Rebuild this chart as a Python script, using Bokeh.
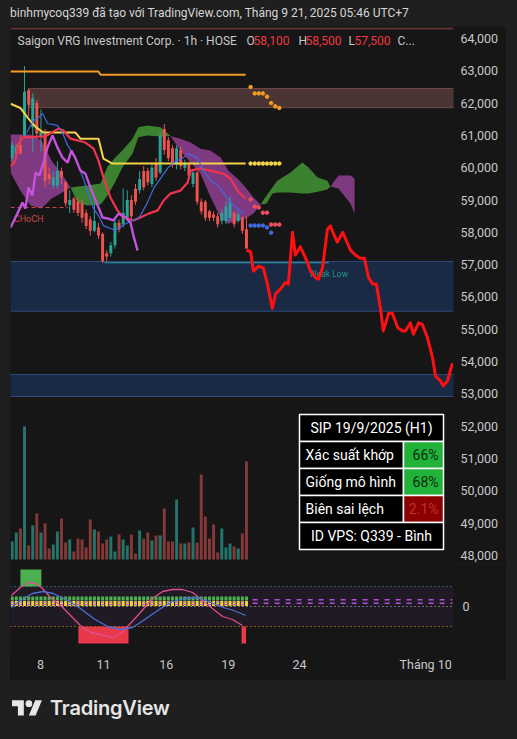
from bokeh.plotting import figure
from bokeh.models import (Range1d, FixedTicker, NumeralTickFormatter, Span, Div,
                          BoxAnnotation, ColumnDataSource, Spacer)
from bokeh.layouts import column, row
from bokeh.embed import file_html
from bokeh.resources import INLINE
from bokeh.core.properties import value

# ------------------------------------------------------------------ data
bar_idx = list(range(58))
opens = [60300, 60400, 60700, 61000, 62400, 61250, 62000, 60950, 61050, 59800,
         59450, 59450, 59900, 59550, 58850, 59050, 58950, 58900, 58600, 58400,
         58050, 58150, 57950, 57350, 57350, 57600, 58300, 58250, 58450, 59000,
         59350, 59300, 59900, 59900, 59500, 60150, 59850, 61200, 60850, 60600,
         60100, 60550, 60000, 60100, 59500, 59850, 58950, 58950, 58650, 58550,
         58500, 58350, 58350, 58450, 58600, 58350, 58450, 58100]
closes = [60700, 60650, 60450, 62350, 61950, 62150, 61050, 61150, 59600, 59650,
          59700, 59900, 59700, 58900, 59000, 58700, 58600, 58450, 58200, 58050,
          58350, 57900, 57100, 57250, 57600, 58300, 58100, 58600, 59000, 58500,
          58950, 59650, 59400, 59550, 60000, 59700, 61000, 60550, 60300, 60100,
          60600, 60050, 60130, 59750, 59850, 58950, 58650, 58450, 58450, 58450,
          58250, 58600, 58800, 58950, 58250, 58550, 58050, 57500]
highs = [60800, 60750, 61000, 63150, 62450, 62300, 62100, 61800, 61200, 60000,
         59900, 60200, 60000, 59600, 59300, 59100, 59100, 59000, 58700, 58500,
         58900, 58300, 58000, 57450, 57700, 58400, 58400, 59350, 59300, 59150,
         59500, 59900, 60050, 60000, 60100, 60300, 61100, 61350, 60950, 60700,
         60700, 60650, 60250, 60200, 59950, 59900, 59050, 59000, 58700, 58650,
         58600, 58700, 58950, 59100, 58650, 58650, 58500, 58500]
lows = [60200, 60300, 60400, 60900, 61600, 60500, 60900, 60500, 59400, 59500,
        59350, 59350, 59500, 58800, 58600, 58600, 58500, 58300, 58100, 57900,
        58000, 57800, 57050, 57100, 57250, 57500, 58000, 58150, 58350, 58400,
        58850, 59200, 59300, 59450, 59400, 59600, 59800, 60400, 60200, 60000,
        59950, 59950, 59900, 59650, 59400, 58850, 58550, 58350, 58350, 58350,
        58150, 58250, 58250, 58350, 58150, 58300, 57950, 57500]
volumes = [18, 27, 31, 133, 14, 34, 46, 27, 36, 11, 15, 28, 41, 17, 20, 8, 21, 20, 12, 40,
           30, 28, 16, 20, 23, 8, 25, 20, 14, 25, 6, 29, 21, 27, 19, 24, 24, 51, 18, 18,
           60, 16, 16, 17, 32, 17, 85, 43, 21, 35, 7, 31, 12, 16, 13, 11, 26, 98]

price_ticks = [48000, 49000, 50000, 51000, 52000, 53000, 54000, 55000, 56000,
               57000, 58000, 59000, 60000, 61000, 62000, 63000, 64000]
date_tick_pos = [6.9, 22.2, 37.5, 52.6, 69.9, 100.6]
date_tick_lbl = ["8", "11", "16", "19", "24", "Tháng 10"]

# step / indicator lines (bar index, price)
orange_x = [-0.4, 21.0, 21.5, 56.8]
orange_y = [62980, 62980, 62880, 62880]
orange_dot_x = [58, 59, 60, 61, 62, 63, 64, 65]
orange_dot_y = [62500, 62300, 62300, 62300, 62200, 62000, 61900, 61850]

yellow_x = [-0.4, 2.0, 3.5, 4.7, 5.9, 7.6, 15.4, 16.6, 21.0, 22.2, 24.4, 56.8]
yellow_y = [61980, 61850, 61600, 61400, 61240, 61090, 61090, 60900, 60900, 60280, 60130, 60130]
yellow_dot_x = [58, 59, 60, 61, 62, 63, 64, 65]
yellow_dot_y = [60130, 60130, 60130, 60130, 60130, 60130, 60130, 60130]

red_x = [-0.4, 0.8, 1.5, 2.7, 8.1, 9.6, 11.3, 12.5, 14.2, 17.8, 19.8, 21.0, 22.2, 23.9,
         25.6, 27.1, 29.5, 31.2, 33.2, 35.4, 36.8, 38.5, 40.9, 42.7, 43.4, 45.8, 48.2,
         51.2, 53.1, 54.8, 56.8]
red_y = [60040, 60220, 60750, 60940, 60970, 61090, 61210, 61150, 60900, 60780, 60590,
         60220, 59700, 59080, 58680, 58460, 58370, 58460, 58580, 58680, 58980, 59200,
         59290, 59540, 59910, 59980, 59910, 59820, 59670, 59290, 59050]
red_dot_x = [58, 59, 60, 61, 62, 63, 64, 65]
red_dot_y = [59020, 58800, 58770, 58610, 58610, 58240, 58240, 58240]

blue_x = [3.5, 5.2, 6.4, 7.4, 8.6, 11.0, 12.2, 13.5, 14.7, 16.1, 17.3, 18.6, 19.8, 21.0,
          22.2, 23.9, 25.1, 26.8, 28.1, 29.3, 30.5, 31.2, 32.9, 34.4, 36.1, 37.8, 39.2,
          41.4, 42.9, 45.1, 46.5, 48.3, 50.0, 51.4, 53.1, 54.8, 56.3]
blue_y = [61090, 61460, 61550, 61680, 61370, 61310, 61090, 60690, 60470, 60070, 59670,
          59140, 58740, 58520, 58210, 58120, 58060, 58210, 58300, 58370, 58430, 58520,
          58920, 59360, 59670, 59980, 60160, 60290, 60440, 60290, 59910, 59600, 59450,
          59230, 58920, 58740, 58580]
blue_dot_x = [58, 59, 60, 61, 62, 63]
blue_dot_y = [58210, 58210, 58210, 58210, 58150, 57990]

violet_x = [-0.4, 0.8, 2.5, 3.2, 4.0, 4.9, 5.7, 6.6, 7.6, 8.6, 9.8, 11.0, 12.2, 13.5,
            14.4, 15.4, 16.6, 17.8, 18.6, 19.8, 21.0, 22.0, 23.2, 24.6, 25.9, 27.6,
            28.8, 29.5, 30.5]
violet_y = [58150, 58460, 58920, 58740, 59390, 59140, 59850, 59760, 60160, 60630, 61000,
            60630, 60320, 60160, 60530, 60290, 59910, 59820, 59540, 59140, 58770, 58460,
            58430, 58370, 58580, 58460, 58300, 57900, 57440]

# Ichimoku cloud pieces (bar index, upper, lower)
cloud_purple = [
    ([-0.4, 2.0, 4.5, 7.1, 9.6, 11.8, 14.2],
     [61030, 61030, 61030, 60840, 60220, 59850, 59390],
     [59850, 59290, 58830, 58740, 59050, 59200, 59390]),
    ([38.5, 40.9, 43.4, 45.8, 48.2, 50.7, 52.6, 54.8, 56.8, 58.7, 60.4],
     [60980, 60900, 60780, 60590, 60530, 60320, 59910, 59670, 59390, 59080, 58860],
     [60980, 60530, 60160, 59820, 59110, 58460, 58270, 58370, 58430, 58580, 58860]),
    ([77.4, 79.4, 82.3, 83.3],
     [59420, 59760, 59760, 59670],
     [59420, 59360, 58890, 58580]),
]
cloud_green = [
    ([14.2, 15.9, 18.3, 21.5, 23.2, 25.1, 26.8, 29.3, 30.7, 32.9, 36.1, 38.5],
     [59390, 59420, 59450, 59510, 60040, 60320, 60530, 60900, 61250, 61310, 61250, 60980],
     [59390, 58920, 58830, 58860, 59140, 59570, 60010, 60440, 60940, 61000, 60970, 60980]),
    ([60.4, 61.9, 63.3, 64.5, 67.7, 70.6, 72.1, 74.3, 76.7, 77.4],
     [58860, 59140, 59390, 59600, 59850, 60160, 60010, 59700, 59600, 59420],
     [58860, 58890, 59200, 59230, 59230, 59200, 59200, 59260, 59330, 59420]),
]

# zones (left bar, top, bottom)
supply_zone = (4.0, 62450, 61860)
demand_zones = [(-1.0, 57100, 55560), (-1.0, 53600, 52920)]
choch_level = 58770
choch_x = [-0.4, 13.5]
weak_low_level = 57060
weak_low_x = [22.4, 77.0]
top_line_level = 64310

# forecast path
fc_x = [57.0, 58.0, 58.7, 59.9, 61.1, 62.1, 63.3, 64.1, 65.3, 66.5, 67.2, 68.2, 68.9,
        70.1, 71.4, 72.6, 73.8, 74.5, 75.5, 76.7, 77.4, 78.2, 79.1, 80.4, 81.1, 82.3,
        83.5, 84.7, 85.7, 86.7, 87.7, 88.6, 89.6, 90.3, 91.6, 92.5, 93.8, 95.0, 95.7,
        96.9, 97.6, 98.9, 99.8, 101.0, 102.3, 103.0, 104.2, 104.9, 105.9, 107.1]
fc_y = [57450, 57400, 56800, 56950, 56900, 56400, 55650, 56100, 56250, 56450, 56400,
        58000, 57300, 57550, 57200, 56800, 56600, 56550, 56900, 58100, 58200, 57950,
        57700, 58000, 57800, 57450, 57300, 57200, 57200, 56600, 56400, 56400, 55650,
        54950, 55500, 55500, 55050, 54950, 54950, 55200, 54850, 55200, 55150, 54750,
        54100, 53550, 53400, 53250, 53400, 53950]

# oscillator
pink_x = [-0.2, 2.0, 4.0, 5.7, 7.4, 9.3, 11.8, 14.2, 16.6, 19.1, 21.5, 24.4, 26.4, 28.3,
          31.2, 34.1, 36.6, 39.0, 41.4, 43.9, 46.3, 48.7, 51.2, 53.6, 56.0]
pink_v = [27.5, 47.5, 60, 57.5, 45, 22.5, 2.5, -22.5, -47.5, -65, -70, -77.5, -67.5,
          -47.5, -15, 20, 37.5, 42.5, 42.5, 35, 15, -5, -25, -32.5, -47.5]
osc_blue_x = [-0.2, 2.0, 4.9, 7.6, 10.0, 13.5, 16.6, 19.8, 23.2, 26.4, 29.3, 31.9, 35.4,
              38.5, 41.7, 45.1, 48.3, 51.4, 53.9, 56.8]
osc_blue_v = [-2.5, 15, 32.5, 37.5, 32.5, 15, -5, -30, -50, -57.5, -52.5, -35, -10, 10,
              20, 22.5, 10, -2.5, -10, -22.5]
ob_spans = [(2.0, 7.1)]
os_spans = [(16.1, 28.3), (55.8, 56.9)]
ob_level, os_level, ext_level = 50, -50, 92.5
future_end = 107.1

# table
table_title = "SIP 19/9/2025 (H1)"
table_rows = [("Xác suất khớp", "66%"), ("Giống mô hình", "68%"), ("Biên sai lệch", "2.1%")]
table_footer = "ID VPS: Q339 - Bình"

# ------------------------------------------------------------------ style
PANE = "#161616"
OUTER = "#1f1f1f"
FONT = "Roboto"
UP, DOWN = "#26a69a", "#ef5350"
VUP, VDOWN = "#23756b", "#853838"
LBL = "#c8c8c8"

X0, X1 = -0.41, 107.37

p = figure(frame_width=443, frame_height=533, x_range=Range1d(X0, X1),
           y_range=Range1d(47845, 64340), output_backend="svg", toolbar_location=None,
           x_axis_location=None, y_axis_location="right",
           min_border_left=1, min_border_right=53, min_border_top=1, min_border_bottom=3,
           background_fill_color=PANE, border_fill_color=PANE, outline_line_color=None)
p.extra_y_ranges = {"vol": Range1d(-1, 532), "py": Range1d(0, 533)}
p.extra_x_ranges = {"px": Range1d(0, 443)}
p.grid.visible = False
ax = p.yaxis[0]
ax.ticker = FixedTicker(ticks=price_ticks)
ax.formatter = NumeralTickFormatter(format="0,0")
ax.axis_line_color = None
ax.major_tick_line_color = None
ax.minor_tick_line_color = None
ax.major_tick_out = 0
ax.major_label_standoff = 7
ax.major_label_text_color = LBL
ax.major_label_text_font = FONT
ax.major_label_text_font_size = "12.5px"

# zones
p.add_layout(Span(location=top_line_level, dimension="width", line_color="#5e3636", line_width=2))
p.quad(left=[supply_zone[0]], right=[X1 + 5], top=[supply_zone[1]], bottom=[supply_zone[2]],
       fill_color="#4a3434", line_color="#6e4a4a", line_width=1)
p.quad(left=[z[0] for z in demand_zones], right=[X1 + 5] * len(demand_zones),
       top=[z[1] for z in demand_zones], bottom=[z[2] for z in demand_zones],
       fill_color="#1b2a44", line_color="#2c4a7a", line_width=1)

# cloud
for xs, up, lo in cloud_purple:
    p.varea(x=xs, y1=lo, y2=up, fill_color="#c04fc4", fill_alpha=0.62)
for xs, up, lo in cloud_green:
    p.varea(x=xs, y1=lo, y2=up, fill_color="#4caf3a", fill_alpha=0.7)

# volume
vol_colors = [VUP if c >= o else VDOWN for o, c in zip(opens, closes)]
p.vbar(x=bar_idx, top=volumes, bottom=0, width=0.72, fill_color=vol_colors,
       line_color=None, y_range_name="vol")

# candles
src = ColumnDataSource(dict(
    x=bar_idx, o=opens, c=closes, h=highs, l=lows,
    top=[max(o, c) for o, c in zip(opens, closes)],
    bot=[min(o, c) for o, c in zip(opens, closes)],
    col=[UP if c >= o else DOWN for o, c in zip(opens, closes)]))
p.segment(x0="x", y0="l", x1="x", y1="h", line_color="col", line_width=1, source=src)
p.vbar(x="x", top="top", bottom="bot", width=0.72, fill_color="col", line_color=None, source=src)

# choch / weak low
p.line(choch_x, [choch_level] * 2, line_color="#d04848", line_width=1, line_dash="4 3")
p.text(x=[4.0], y=[58400], text=["CHoCH"], text_color="#d04848", text_font=value(FONT),
       text_font_size=value("9px"), text_align="center", text_baseline="middle")
p.line(weak_low_x, [weak_low_level] * 2, line_color="#2aa0ad", line_width=1)
p.text(x=[77.0], y=[56700], text=["Weak Low"], text_color="#1f8f85", text_font=value(FONT),
       text_font_size=value("8.5px"), text_align="center", text_baseline="middle")

# lines
p.line(orange_x, orange_y, line_color="#f39c22", line_width=2)
p.scatter(orange_dot_x, orange_dot_y, size=3.5, color="#f39c22")
p.line(yellow_x, yellow_y, line_color="#f5d447", line_width=2)
p.scatter(yellow_dot_x, yellow_dot_y, size=3.5, color="#f5d447")
p.line(red_x, red_y, line_color="#f0344c", line_width=2.2)
p.scatter(red_dot_x, red_dot_y, size=3.5, color="#f0505e")
p.line(blue_x, blue_y, line_color="#3f6be0", line_width=1.2)
p.scatter(blue_dot_x, blue_dot_y, size=3.5, color="#3f6be0")
p.line(violet_x, violet_y, line_color="#c452dc", line_width=2.4)

# forecast
p.line(fc_x, fc_y, line_color="#ff1010", line_width=3, line_join="round")

# legend row (top of pane)
legend_parts = [
    (7, "Saigon VRG Investment Corp. · 1h · HOSE", LBL),
    (236, "O", LBL), (243, f"{opens[-1]:,}", "#f23645"),
    (288, "H", LBL), (295, f"{highs[-1]:,}", "#f23645"),
    (338, "L", LBL), (344, f"{lows[-1]:,}", "#f23645"),
    (387, "C...", LBL),
]
p.text(x=[a for a, _, _ in legend_parts], y=[520] * len(legend_parts),
       text=[b for _, b, _ in legend_parts], text_color=[c for _, _, c in legend_parts],
       text_font=value(FONT), text_font_size=value("12px"), text_baseline="middle",
       x_range_name="px", y_range_name="py")

# table
TL, TM, TR = 289, 393, 433
row_edges = [146, 119, 92, 65, 38, 11]
p.quad(left=[TL], right=[TR], top=[row_edges[0]], bottom=[row_edges[1]], fill_color="black",
       line_color="white", line_width=1.5, x_range_name="px", y_range_name="py")
cell_bg = ["#22b23a", "#22b23a", "#8b0000"]
cell_fg = ["#0c2e10", "#0c2e10", "#c0302a"]
for k, (lab, val) in enumerate(table_rows):
    t, b = row_edges[k + 1], row_edges[k + 2]
    p.quad(left=[TL, TM], right=[TM, TR], top=[t, t], bottom=[b, b],
           fill_color=["black", cell_bg[k]], line_color="white", line_width=1.5,
           x_range_name="px", y_range_name="py")
    p.text(x=[TL + 6], y=[(t + b) / 2], text=[lab], text_color="white", text_font=value(FONT),
           text_font_size=value("14px"), text_baseline="middle", x_range_name="px", y_range_name="py")
    p.text(x=[TR - 5], y=[(t + b) / 2], text=[val], text_color=cell_fg[k], text_font=value(FONT),
           text_font_size=value("14px"), text_baseline="middle", text_align="right",
           x_range_name="px", y_range_name="py")
p.quad(left=[TL], right=[TR], top=[row_edges[4]], bottom=[row_edges[5]], fill_color="black",
       line_color="white", line_width=1.5, x_range_name="px", y_range_name="py")
p.text(x=[(TL + TR) / 2] * 2, y=[(row_edges[0] + row_edges[1]) / 2, (row_edges[4] + row_edges[5]) / 2],
       text=[table_title, table_footer], text_color="white", text_font=value(FONT),
       text_font_size=value("14px"), text_baseline="middle", text_align="center",
       x_range_name="px", y_range_name="py")

# ------------------------------------------------------------------ oscillator pane
q = figure(frame_width=443, frame_height=89, x_range=p.x_range, y_range=Range1d(-115, 107.5),
           output_backend="svg", toolbar_location=None, x_axis_location="below",
           y_axis_location="right", min_border_left=1, min_border_right=53,
           min_border_top=0, min_border_bottom=28,
           background_fill_color=PANE, border_fill_color=PANE, outline_line_color=None)
q.grid.visible = False
q.add_layout(BoxAnnotation(bottom=os_level, top=ob_level, fill_color="#241c29", fill_alpha=0.7,
                           line_color=None, level="underlay"))
for lvl, col in [(ob_level, "#26a69a"), (0, "#bdbdbd"), (os_level, "#ff9800")]:
    q.add_layout(Span(location=lvl, dimension="width", line_color=col, line_width=1,
                      line_dash="1 3", level="underlay"))
q.quad(left=[a for a, _ in ob_spans], right=[b for _, b in ob_spans],
       bottom=[ob_level] * len(ob_spans), top=[ext_level] * len(ob_spans),
       fill_color="#4caf50", line_color=None)
q.quad(left=[a for a, _ in os_spans], right=[b for _, b in os_spans],
       bottom=[-ext_level] * len(os_spans), top=[os_level] * len(os_spans),
       fill_color="#e8394a", line_color=None)
# signal strip: one cell per bar
q.vbar(x=bar_idx, bottom=15, top=25, width=0.75, fill_color="#4caf50", line_color=None)
q.vbar(x=bar_idx, bottom=1, top=14, width=0.75, fill_color="#f2d23c", line_color=None)
q.vbar(x=bar_idx[::2], bottom=10, top=12.5, width=0.75, fill_color="#b84ee8", line_color=None)
q.vbar(x=bar_idx[::2], bottom=4, top=6.5, width=0.75, fill_color="#b84ee8", line_color=None)
fx = [bar_idx[-1] + 1.5, future_end]
q.line(fx, [16.75, 16.75], line_color="#b04ee0", line_width=1.5, line_dash="5 6")
q.line(fx, [8.25, 8.25], line_color="#b04ee0", line_width=1.5, line_dash="5 6")
q.line(pink_x, pink_v, line_color="#e0508a", line_width=1.3)
q.line(osc_blue_x, osc_blue_v, line_color="#4a6fd8", line_width=1.3)

qy = q.yaxis[0]
qy.ticker = FixedTicker(ticks=[0])
for a in (qy, q.xaxis[0]):
    a.axis_line_color = None
    a.major_tick_line_color = None
    a.minor_tick_line_color = None
    a.major_tick_out = 0
    a.major_label_text_color = LBL
    a.major_label_text_font = FONT
    a.major_label_text_font_size = "12.5px"
qy.major_label_standoff = 9
qx = q.xaxis[0]
qx.ticker = FixedTicker(ticks=date_tick_pos)
qx.major_label_overrides = {pos: lbl for pos, lbl in zip(date_tick_pos, date_tick_lbl)}
qx.major_label_standoff = 4

# ------------------------------------------------------------------ header / footer
header = Div(text=('<div style="font-family:Roboto;font-size:12px;color:#d6d6d6;'
                   'white-space:nowrap;padding-left:10px;line-height:14px;padding-top:6px">'
                   'binhmycoq339 đã tạo với TradingView.com, Tháng 9 21, 2025 05:46 UTC+7</div>'),
             width=517, height=26, margin=0, styles={"background-color": OUTER})
footer = Div(text=('<div style="position:relative;width:506px;height:59px;">'
                   '<svg style="position:absolute;left:12px;top:17px" width="30.4" height="23.6" '
                   'viewBox="0 0 36 28"><path fill="#e6e6e6" d="M14 22H7V11H0V4h14v18zM28 22h-8l7.5-18h8L28 22z"/>'
                   '<circle fill="#e6e6e6" cx="20" cy="8" r="4"/></svg>'
                   '<span style="position:absolute;left:50px;top:18px;font-family:Inter;font-weight:600;'
                   'font-size:20px;line-height:20px;color:#e6e6e6;white-space:nowrap;letter-spacing:-0.2px">TradingView</span></div>'),
             width=506, height=59, margin=0, styles={"background-color": OUTER})

body = row(Spacer(width=9, height=653), column(p, q, spacing=0), spacing=0)
layout = column(header, body, footer, spacing=0)

html = file_html(layout, INLINE, title="SIP")
html = html.replace("</head>", "<style>html,body{background-color:#1f1f1f;}</style></head>", 1)
open("out.html", "w").write(html)
